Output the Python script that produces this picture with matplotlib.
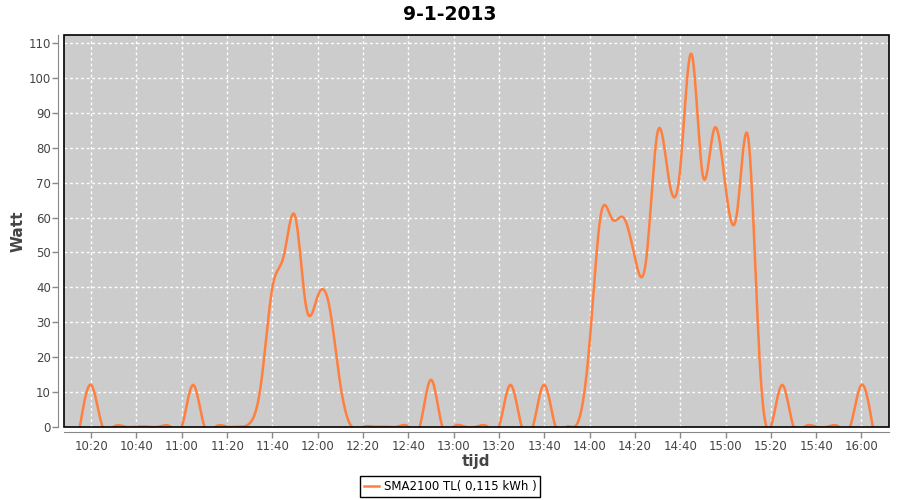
import numpy as np
import pandas as pd
import matplotlib
matplotlib.use('Agg')
import matplotlib.pyplot as plt
import matplotlib.dates as mdates
from matplotlib.patches import Rectangle

# 5-minute samples (10:15 .. 16:05)
times = pd.date_range('2013-01-09 10:15', '2013-01-09 16:05', freq='5min')
watt = [0, 12, 0, 0, 0, 0, 0, 0, 0, 0,          # 10:15 - 11:00
        12, 0, 0, 0, 0, 1, 12.5, 40, 49, 60.5,   # 11:05 - 11:50
        34, 37.5, 35, 12, 0, 0, 0, 0, 0, 0,      # 11:55 - 12:40
        0, 13.5, 0, 0, 0, 0, 0, 0, 12, 0,        # 12:45 - 13:30
        0, 12, 0, 0, 1.5, 24, 61, 59.5, 60, 48.5,  # 13:35 - 14:20
        48, 84.5, 71, 74, 107, 72, 85.5, 69, 61, 83,  # 14:25 - 15:10
        20, 0, 12, 0, 0, 0, 0, 0, 0,             # 15:15 - 15:55
        12, 0]                                   # 16:00, 16:05

title = '9-1-2013'
series_label = 'SMA2100 TL( 0,115 kWh )'
line_color = '#ff7f3f'


def spline_curve(x, y, steps=12):
    # natural cubic spline through the samples, like the spline renderer
    x = np.asarray(x, dtype=float)
    y = np.asarray(y, dtype=float)
    n = len(x)
    h = np.diff(x)
    A = np.zeros((n, n))
    b = np.zeros(n)
    A[0, 0] = A[-1, -1] = 1
    for i in range(1, n - 1):
        A[i, i - 1] = h[i - 1]
        A[i, i] = 2 * (h[i - 1] + h[i])
        A[i, i + 1] = h[i]
        b[i] = 6 * ((y[i + 1] - y[i]) / h[i] - (y[i] - y[i - 1]) / h[i - 1])
    M = np.linalg.solve(A, b)
    xs, ys = [], []
    for i in range(n - 1):
        t = np.linspace(0, h[i], steps, endpoint=False)
        a = (M[i + 1] - M[i]) / (6 * h[i])
        c = (y[i + 1] - y[i]) / h[i] - h[i] * (2 * M[i] + M[i + 1]) / 6
        xs.append(x[i] + t)
        ys.append(y[i] + c * t + M[i] / 2 * t ** 2 + a * t ** 3)
    xs.append([x[-1]])
    ys.append([y[-1]])
    return np.concatenate(xs), np.concatenate(ys)


xnum = mdates.date2num(times.to_pydatetime())
sx, sy = spline_curve(xnum, watt)

fig = plt.figure(figsize=(9, 5), dpi=100)
ax = fig.add_axes([64 / 900, 1 - 426.7 / 500, 825 / 900, (426.7 - 35) / 500])
ax.set_facecolor('#cccccc')

ax.plot(sx, sy, color=line_color, lw=1.8, label=series_label, zorder=3)

ax.set_xlim(mdates.date2num(pd.Timestamp('2013-01-09 10:08')),
            mdates.date2num(pd.Timestamp('2013-01-09 16:12:10')))
ax.set_ylim(0, 112.4)
ax.set_yticks(range(0, 111, 10))
ax.xaxis.set_major_locator(mdates.MinuteLocator(byminute=[0, 20, 40]))
ax.xaxis.set_major_formatter(mdates.DateFormatter('%H:%M'))

ax.grid(True, color='white', linestyle=(0, (2, 2)), lw=1)
ax.set_axisbelow(True)

for s in ['top', 'right']:
    ax.spines[s].set_visible(False)
for s in ['left', 'bottom']:
    ax.spines[s].set_position(('outward', 4))
    ax.spines[s].set_color('#888888')
ax.tick_params(colors='#888888', labelcolor='#444444', labelsize=8.5,
               length=4, width=1, pad=1.5)

# plot outline
ax.add_patch(Rectangle((0, 0), 1, 1, transform=ax.transAxes, fill=False,
                       edgecolor='black', lw=1.2, zorder=5, clip_on=False))

ax.set_xlabel('tijd', fontsize=11, fontweight='bold', color='#444444', labelpad=1)
ax.set_ylabel('Watt', fontsize=11, fontweight='bold', color='#444444', labelpad=2)
fig.text(0.5, 1 - 14 / 500, title, ha='center', va='center',
         fontsize=13.5, fontweight='bold')

fig.legend(loc='center', bbox_to_anchor=(0.5, 1 - 486.5 / 500),
           fancybox=False, edgecolor='black', framealpha=1, fontsize=8.5,
           handlelength=1.3, borderpad=0.3, handletextpad=0.4)

plt.savefig('out.png', dpi=100)
